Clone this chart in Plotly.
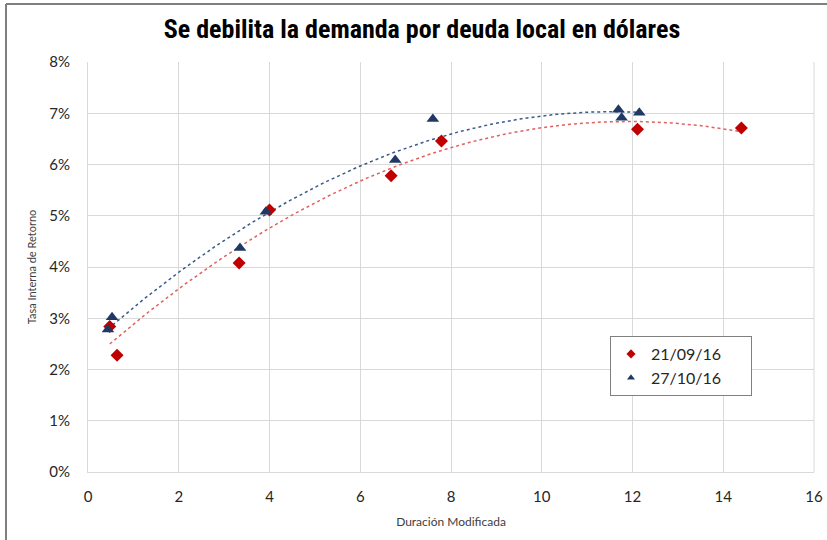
import numpy as np
import plotly.graph_objects as go

# ---- data ----
series_names = ["21/09/16", "27/10/16"]
dur_sep = [0.48, 0.64, 3.33, 4.00, 6.68, 7.79, 12.11, 14.40]
tir_sep = [2.84, 2.28, 4.08, 5.11, 5.78, 6.46, 6.69, 6.71]
dur_oct = [0.44, 0.53, 3.35, 3.92, 6.77, 7.60, 11.69, 11.76, 12.15]
tir_oct = [2.78, 3.02, 4.37, 5.08, 6.09, 6.89, 7.07, 6.91, 7.01]
x_ticks = [0, 2, 4, 6, 8, 10, 12, 14, 16]
y_ticks = [0, 1, 2, 3, 4, 5, 6, 7, 8]
y_tick_labels = [f"{v}%" for v in y_ticks]

RED = "#c00000"
NAVY = "#1f3864"

def trend(xs, ys):
    c = np.polyfit(xs, ys, 2)
    xx = np.linspace(min(xs), max(xs), 200)
    return xx, np.polyval(c, xx)

fig = go.Figure()
tx, ty = trend(dur_sep, tir_sep)
fig.add_trace(go.Scatter(x=tx, y=ty, mode="lines", showlegend=False, hoverinfo="skip",
                         line=dict(color="#e0605f", width=1.5, dash="dot")))
tx, ty = trend(dur_oct, tir_oct)
fig.add_trace(go.Scatter(x=tx, y=ty, mode="lines", showlegend=False, hoverinfo="skip",
                         line=dict(color="#3b5a8a", width=1.5, dash="dot")))
fig.add_trace(go.Scatter(x=dur_sep, y=tir_sep, mode="markers", name=series_names[0], showlegend=False,
                         marker=dict(symbol="diamond", size=10, color=RED)))
fig.add_trace(go.Scatter(x=dur_oct, y=tir_oct, mode="markers", name=series_names[1], showlegend=False,
                         marker=dict(symbol="triangle-up", size=11, color=NAVY)))
# legend entries (smaller symbols, as in the original)
pad = "\u00a0" * 6
fig.add_trace(go.Scatter(x=[None], y=[None], mode="markers", name=series_names[0] + pad,
                         marker=dict(symbol="diamond", size=7, color=RED)))
fig.add_trace(go.Scatter(x=[None], y=[None], mode="markers", name=series_names[1] + pad,
                         marker=dict(symbol="triangle-up", size=7, color=NAVY)))

L, R, T, B = 88, 13, 62, 68
PW, PH = 827 - L - R, 540 - T - B
def px(xp): return (xp - L) / PW
def py(yp): return (540 - B - yp) / PH

fig.update_layout(
    width=827, height=540,
    margin=dict(l=L, r=R, t=T, b=B, autoexpand=False),
    paper_bgcolor="white", plot_bgcolor="white",
    font=dict(family="Lato, Open Sans, sans-serif", color="#404040"),
    title=dict(text="<b>Se debilita la demanda por deuda local en dólares</b>",
               x=422 / 827, xref="container", xanchor="center", y=1 - 29 / 540, yanchor="middle",
               font=dict(family="Liberation Sans Narrow, Roboto Condensed, Arial Narrow, sans-serif",
                         size=26, color="black")),
    xaxis=dict(range=[0, 16], tickvals=x_ticks, showgrid=True, gridcolor="#d9d9d9", gridwidth=1,
               zeroline=False, showline=True, linecolor="#d9d9d9", mirror=False, automargin=False,
               ticks="", ticklabelstandoff=11, tickfont=dict(size=15, color="#262626"),
               title=dict(text="Duración Modificada", font=dict(size=12, color="#404040"), standoff=13)),
    yaxis=dict(range=[0, 8], tickvals=y_ticks, ticktext=y_tick_labels, showgrid=True, automargin=False,
               gridcolor="#d9d9d9", gridwidth=1, zeroline=False, showline=True, linecolor="#d9d9d9",
               ticks="", ticklabelstandoff=14, tickfont=dict(size=15, color="#262626"),
               title=dict(text="Tasa Interna de Retorno", font=dict(size=11, color="#404040"), standoff=10)),
    legend=dict(x=px(610), y=py(336), xanchor="left", yanchor="top",
                bgcolor="white", bordercolor="#7f7f7f", borderwidth=1,
                font=dict(size=16, color="#262626"), itemwidth=30,
                tracegroupgap=4),
    shapes=[
        dict(type="line", xref="paper", yref="paper", x0=px(6), x1=px(6), y0=py(4), y1=py(540),
             line=dict(color="#7f7f7f", width=2)),
        dict(type="line", xref="paper", yref="paper", x0=px(6), x1=px(827), y0=py(4), y1=py(4),
             line=dict(color="#7f7f7f", width=2)),
        dict(type="line", xref="paper", yref="paper", x0=1, x1=1, y0=0, y1=1,
             line=dict(color="#d9d9d9", width=1)),
    ],
)

fig.write_html("out.html", config={"displayModeBar": False},
               post_script="document.body.style.margin='0';document.body.style.overflow='hidden';")
